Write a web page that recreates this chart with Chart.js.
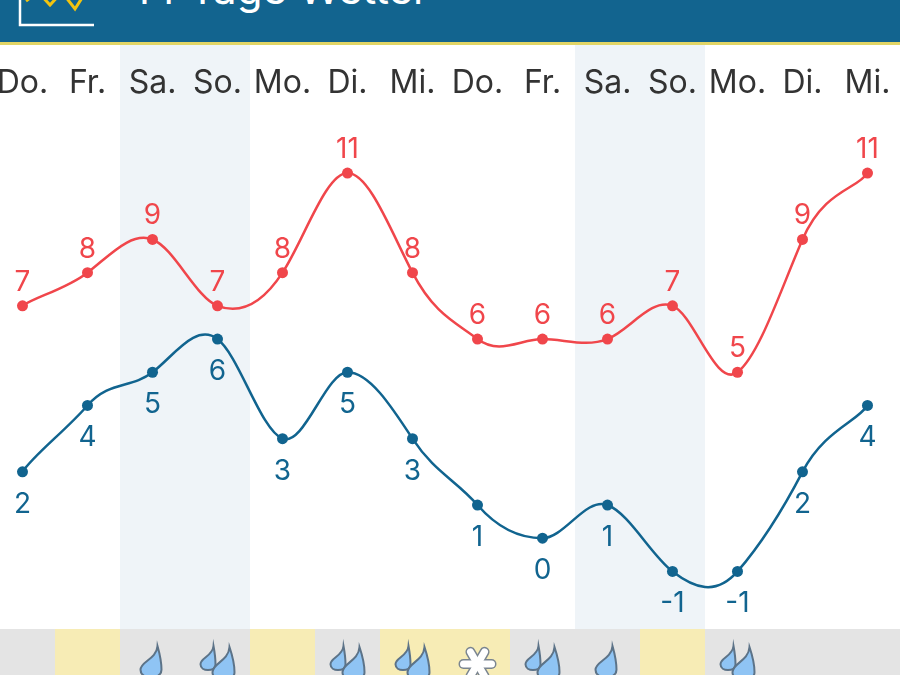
<!DOCTYPE html>
<html lang="de">
<head>
<meta charset="utf-8">
<title>14 Tage Wetter</title>
<script src="https://cdn.jsdelivr.net/npm/chart.js@4/dist/chart.umd.min.js"></script>
<style>
    html, body { margin: 0; padding: 0; width: 900px; height: 675px; overflow: hidden; background: #fff; }
    #page { position: relative; width: 900px; height: 675px; overflow: hidden; }
    /* the first and last day sit half a column inside the window */
    #chartBox { position: absolute; left: -10px; top: 0; width: 910px; height: 675px; }
    #header { position: absolute; left: 0; top: 0; width: 900px; height: 42px; background: #12648f; border-bottom: 3px solid #e2d566; overflow: hidden; z-index: 2; }
    #title { position: absolute; left: 133px; top: -39px; font: 42px/56px Inter, sans-serif; color: #fff; white-space: nowrap; }
    #logo { position: absolute; left: 0; top: 0; }
</style>
</head>
<body>
<div id="page">
    <div id="chartBox"><canvas id="tempChart" width="910" height="675"></canvas></div>
    <div id="header">
        <svg id="logo" width="110" height="42">
            <polyline points="20,-5 20,25 94,25" fill="none" stroke="#fff" stroke-width="2.5"/>
            <polyline points="26,1 38,-8 50,5 62,-8 75,9 87,-10" fill="none" stroke="#f2c40f" stroke-width="3"/>
        </svg>
        <div id="title">14 Tage Wetter</div>
    </div>
</div>
<script>
// === Data ===
const days = ['Do.', 'Fr.', 'Sa.', 'So.', 'Mo.', 'Di.', 'Mi.', 'Do.', 'Fr.', 'Sa.', 'So.', 'Mo.', 'Di.', 'Mi.'];
const maxTemps = [7, 8, 9, 7, 8, 11, 8, 6, 6, 6, 7, 5, 9, 11];
const minTemps = [2, 4, 5, 6, 3, 5, 3, 1, 0, 1, -1, -1, 2, 4];
const weekend = [0, 0, 1, 1, 0, 0, 0, 0, 0, 1, 1, 0, 0, 0];
const sunny = [0, 1, 0, 0, 1, 0, 1, 1, 0, 0, 1, 0, 0, 0];
// 0 nothing, 1 one drop, 2 two drops, 3 snow
const weatherIcons = [0, 0, 1, 2, 0, 2, 2, 3, 2, 1, 0, 2, 0, 0];

const RED = '#f0464b';
const BLUE = '#11648f';
const STRIP_TOP = 629;
// control point reach of the curves
const SMOOTH_X = 1 / 6;
const SMOOTH_Y = 0.25;

// === Helpers ===
function columnEdges(chart, i) {
    const x = chart.scales.x;
    const half = (x.getPixelForValue(1) - x.getPixelForValue(0)) / 2;
    const c = x.getPixelForValue(i);
    return [Math.round(c - half), Math.round(c + half), c];
}

function drawDrop(ctx, x, y, left, right, h) {
    // x,y is the tip
    ctx.beginPath();
    ctx.moveTo(x, y);
    ctx.bezierCurveTo(x + right * 0.6, y + h * 0.25, x + right, y + h * 0.45, x + right, y + h * 0.7);
    ctx.bezierCurveTo(x + right, y + h, x - left, y + h, x - left, y + h * 0.7);
    ctx.bezierCurveTo(x - left, y + h * 0.45, x - 1, y + h * 0.4, x, y);
    ctx.closePath();
    ctx.fillStyle = '#8fc4f4';
    ctx.fill();
    ctx.strokeStyle = '#5c7388';
    ctx.lineWidth = 2;
    ctx.stroke();
}

function drawSnow(ctx, x, y) {
    ctx.save();
    ctx.translate(x, y);
    ctx.lineCap = 'round';
    for (const pass of [['#7a8590', 10], ['#ffffff', 7]]) {
        ctx.strokeStyle = pass[0];
        ctx.lineWidth = pass[1];
        for (let k = 0; k < 3; k++) {
            const a = k * Math.PI / 3;
            ctx.beginPath();
            ctx.moveTo(-Math.cos(a) * 14, -Math.sin(a) * 14);
            ctx.lineTo(Math.cos(a) * 14, Math.sin(a) * 14);
            ctx.stroke();
        }
    }
    ctx.restore();
}

// === Plugins ===
const smoothPlugin = {
    id: 'smoothCurves',
    afterDatasetsUpdate(chart) {
        chart.data.datasets.forEach((ds, n) => {
            const meta = chart.getDatasetMeta(n);
            meta.dataset.updateControlPoints(chart.chartArea, 'x');
            const pts = meta.data;
            pts.forEach((p, i) => {
                const prev = pts[i - 1] || p;
                const next = pts[i + 1] || p;
                p.cp1x = p.x - SMOOTH_X * (next.x - prev.x);
                p.cp1y = p.y - SMOOTH_Y * (next.y - prev.y);
                p.cp2x = p.x + SMOOTH_X * (next.x - prev.x);
                p.cp2y = p.y + SMOOTH_Y * (next.y - prev.y);
            });
        });
    }
};

const backdropPlugin = {
    id: 'backdrop',
    beforeDraw(chart) {
        const ctx = chart.ctx;
        ctx.save();
        days.forEach((d, i) => {
            const [l, r] = columnEdges(chart, i);
            if (weekend[i]) {
                ctx.fillStyle = '#eff4f8';
                ctx.fillRect(l, 45, r - l, STRIP_TOP - 45);
            }
            ctx.fillStyle = sunny[i] ? '#f7ecb5' : '#e4e4e4';
            ctx.fillRect(l, STRIP_TOP, r - l, chart.height - STRIP_TOP);
        });
        ctx.restore();
    },
    afterDraw(chart) {
        const ctx = chart.ctx;
        ctx.save();
        weatherIcons.forEach((icon, i) => {
            const c = columnEdges(chart, i)[2];
            if (icon === 1) {
                drawDrop(ctx, c + 5, 646, 17, 4, 34);
            } else if (icon === 2) {
                drawDrop(ctx, c - 4, 646, 13, 2, 26);
                drawDrop(ctx, c + 12, 647, 17, 5, 36);
            } else if (icon === 3) {
                drawSnow(ctx, c, 664);
            }
        });
        ctx.restore();
    }
};

const valueLabelPlugin = {
    id: 'valueLabels',
    afterDatasetsDraw(chart) {
        const ctx = chart.ctx;
        ctx.save();
        ctx.font = '28px Inter, sans-serif';
        ctx.textAlign = 'center';
        ctx.textBaseline = 'alphabetic';
        chart.data.datasets.forEach((ds, n) => {
            const above = n === 0;
            chart.getDatasetMeta(n).data.forEach((pt, i) => {
                ctx.fillStyle = ds.borderColor;
                ctx.fillText(String(ds.data[i]), pt.x, above ? pt.y - 15 : pt.y + 41);
            });
        });
        ctx.restore();
    }
};

// === Chart ===
new Chart(document.getElementById('tempChart'), {
    type: 'line',
    data: {
        labels: days,
        datasets: [
            { label: 'Max', data: maxTemps, borderColor: RED, backgroundColor: RED, pointBackgroundColor: RED, borderWidth: 2.5, pointRadius: 5.5, pointBorderWidth: 0, tension: 0.4 },
            { label: 'Min', data: minTemps, borderColor: BLUE, backgroundColor: BLUE, pointBackgroundColor: BLUE, borderWidth: 2.5, pointRadius: 5.5, pointBorderWidth: 0, tension: 0.4 }
        ]
    },
    options: {
        responsive: false,
        animation: false,
        layout: { autoPadding: false, padding: { top: 45, left: 0, right: 0, bottom: 0 } },
        plugins: { legend: { display: false }, tooltip: { enabled: false } },
        scales: {
            x: {
                position: 'top',
                offset: true,
                grid: { display: false },
                border: { display: false },
                afterFit(scale) {
                    scale.height = 65;
                    scale.paddingLeft = 0;
                    scale.paddingRight = 0;
                },
                ticks: { color: '#333333', font: { family: 'Inter, sans-serif', size: 32 }, maxRotation: 0, autoSkip: false, padding: -1 }
            },
            y: { display: false, min: -4.12, max: 12.9 }
        }
    },
    plugins: [smoothPlugin, backdropPlugin, valueLabelPlugin]
});
</script>
</body>
</html>
